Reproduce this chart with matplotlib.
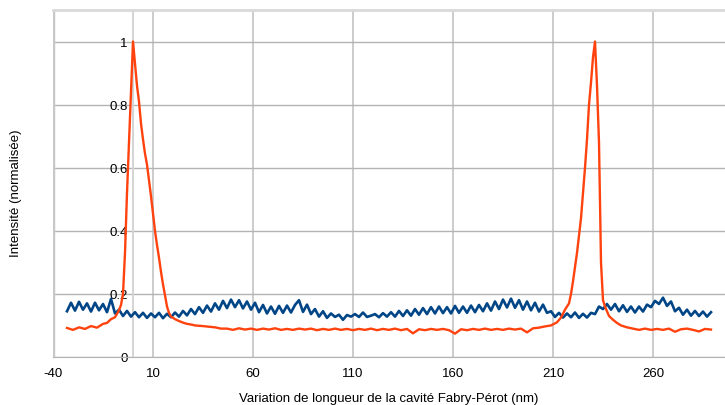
import matplotlib
matplotlib.use("Agg")
import matplotlib.pyplot as plt
import numpy as np

plt.rcParams['font.family'] = ['Liberation Sans', 'DejaVu Sans']

# blue series, one value every 2 nm starting at -33
blue_start = -33
blue_step = 2
blue_y = [
    0.145, 0.172, 0.147, 0.175, 0.150, 0.170, 0.144, 0.172, 0.148, 0.168, 0.142, 0.184,
    0.138, 0.150, 0.130, 0.146, 0.128, 0.142, 0.126, 0.140, 0.124, 0.138,      # -9 .. 9
    0.126, 0.140, 0.123, 0.137, 0.126, 0.141, 0.128, 0.146, 0.132, 0.152,      # 11 .. 29
    0.136, 0.158, 0.140, 0.163, 0.144, 0.170, 0.150, 0.178, 0.155, 0.182,      # 31 .. 49
    0.158, 0.180, 0.154, 0.176, 0.150, 0.172, 0.142, 0.165, 0.138, 0.160,      # 51 .. 69
    0.137, 0.162, 0.140, 0.163, 0.141, 0.165, 0.180, 0.143, 0.166, 0.136,      # 71 .. 89
    0.152, 0.128, 0.145, 0.124, 0.138, 0.127, 0.134, 0.118, 0.133, 0.128,      # 91 .. 109
    0.136, 0.127, 0.141, 0.127, 0.131, 0.136, 0.126, 0.139, 0.128, 0.142,      # 111 .. 129
    0.128, 0.146, 0.130, 0.148, 0.131, 0.152, 0.134, 0.155, 0.136, 0.158,      # 131 .. 149
    0.138, 0.160, 0.139, 0.158, 0.138, 0.162, 0.140, 0.160, 0.140, 0.163,      # 151 .. 169
    0.142, 0.165, 0.145, 0.170, 0.147, 0.176, 0.152, 0.182, 0.157, 0.185,      # 171 .. 189
    0.156, 0.180, 0.150, 0.176, 0.148, 0.172, 0.144, 0.166, 0.140, 0.145,      # 191 .. 209
    0.127, 0.140, 0.125, 0.138, 0.126, 0.141, 0.124, 0.137, 0.125, 0.140,      # 211 .. 229
    0.136, 0.160, 0.152, 0.168, 0.150, 0.168, 0.145, 0.164, 0.143, 0.160,      # 231 .. 249
    0.141, 0.160, 0.144, 0.166, 0.158, 0.178, 0.168, 0.188, 0.162, 0.176,      # 251 .. 269
    0.145, 0.156, 0.134, 0.150, 0.131, 0.146, 0.130, 0.144, 0.128, 0.142,      # 271 .. 289
]
blue_x = blue_start + blue_step * np.arange(len(blue_y))

# red series, denser around the two peaks
red_peak1_x = [-33, -30, -27, -24, -21, -18, -15, -13, -11, -9, -7, -6, -5, -4, -3, -2, -1,
               0, 1, 2, 3, 4, 5, 6, 7, 8, 9, 10, 11, 12, 13, 14, 15, 16, 17, 18, 19,
               21, 23, 25, 27, 29, 31, 33, 35, 38, 41, 44]
red_peak1_y = [0.092, 0.086, 0.094, 0.089, 0.098, 0.093, 0.105, 0.108, 0.120, 0.126, 0.148,
               0.165, 0.200, 0.330, 0.520, 0.680, 0.840, 1.000, 0.930, 0.860, 0.810, 0.740,
               0.690, 0.645, 0.610, 0.560, 0.510, 0.455, 0.400, 0.355, 0.315, 0.270, 0.230,
               0.196, 0.160, 0.140, 0.128, 0.120, 0.114, 0.109, 0.105, 0.103, 0.100, 0.099,
               0.098, 0.096, 0.094, 0.090]
red_base_x = list(range(47, 201, 3))
red_base_y = [0.090, 0.086, 0.091, 0.087, 0.090, 0.086, 0.090, 0.087, 0.091, 0.086,
              0.089, 0.086, 0.090, 0.087, 0.090, 0.085, 0.089, 0.086, 0.090, 0.086,
              0.089, 0.085, 0.089, 0.086, 0.090, 0.085, 0.089, 0.086, 0.090, 0.085,
              0.089, 0.075, 0.088, 0.085, 0.089, 0.086, 0.089, 0.085, 0.074, 0.088,
              0.085, 0.089, 0.086, 0.090, 0.086, 0.089, 0.086, 0.090, 0.087, 0.090,
              0.078, 0.091]
red_peak2_x = [203, 206, 209, 212, 214, 216, 218, 219, 220, 222, 224, 226, 227, 228, 229,
               230, 231, 232, 233, 234, 235, 236, 238, 240, 242, 244, 247]
red_peak2_y = [0.093, 0.097, 0.100, 0.110, 0.125, 0.150, 0.170, 0.200, 0.240, 0.330, 0.440,
               0.600, 0.690, 0.800, 0.870, 0.950, 1.000, 0.860, 0.680, 0.300, 0.180, 0.160,
               0.130, 0.118, 0.108, 0.100, 0.094]
red_tail_x = list(range(250, 290, 3))
red_tail_y = [0.090, 0.086, 0.090, 0.086, 0.089, 0.086, 0.090, 0.080, 0.088, 0.090,
              0.086, 0.081, 0.089, 0.087]

red_x = red_peak1_x + red_base_x + red_peak2_x + red_tail_x
red_y = red_peak1_y + red_base_y + red_peak2_y + red_tail_y

xticks = [-40, 10, 60, 110, 160, 210, 260]
yticks = [0, 0.2, 0.4, 0.6, 0.8, 1]
ytick_labels = ['0', '0.2', '0.4', '0.6', '0.8', '1']

fig = plt.figure(figsize=(7.25, 4.06), dpi=100)
ax = fig.add_axes([53 / 725, 48 / 406, 672 / 725, 347 / 406])

ax.plot(blue_x, blue_y, color='#004586', lw=1.9, zorder=3)
ax.plot(red_x, red_y, color='#ff420e', lw=1.7, zorder=4)

ax.set_xlim(-40, 296)
ax.set_ylim(0, 1.1)
ax.set_xticks(xticks)
ax.set_xticklabels([str(t) for t in xticks])
ax.set_yticks(yticks)
ax.set_yticklabels(ytick_labels)

ax.grid(axis='y', color='#b3b3b3', lw=1.0)
ax.grid(axis='x', color='#cccccc', lw=1.4)
ax.set_axisbelow(True)

# y axis crosses at x = 0
ax.spines['left'].set_position(('data', 0))
ax.spines['left'].set_color('#d4d4d4')
ax.spines['left'].set_linewidth(1.4)
ax.spines['bottom'].set_color('#b3b3b3')
ax.spines['top'].set_color('#d9d9d9')
ax.spines['top'].set_linewidth(2)
ax.spines['right'].set_visible(False)
ax.axvline(-40, color='#c8c8c8', lw=2.5, zorder=1)

ax.tick_params(axis='both', length=0, labelsize=9.5, colors='black')
ax.tick_params(axis='x', pad=7)
ax.tick_params(axis='y', pad=4)

ax.set_xlabel('Variation de longueur de la cavité Fabry-Pérot (nm)', fontsize=9.5)
ax.set_ylabel('Intensité (normalisée)', fontsize=9.5)
ax.xaxis.set_label_coords(0.5, -0.1)
ax.yaxis.set_label_coords(-0.046, 0.475)

fig.savefig('out.png', dpi=100)
